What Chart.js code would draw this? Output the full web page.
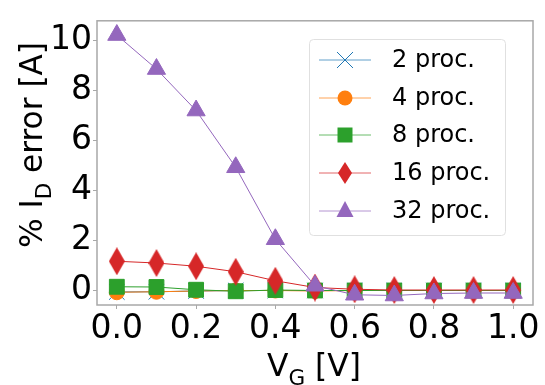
<!DOCTYPE html>
<html>
<head>
<meta charset="utf-8">
<script src="https://cdn.jsdelivr.net/npm/chart.js@4/dist/chart.umd.min.js"></script>
<style>
html, body { margin: 0; padding: 0; background: #fff; }
#wrap { width: 545px; height: 385px; position: relative; }
</style>
</head>
<body>
<div id="wrap"><canvas id="chart" width="545" height="385"></canvas></div>
<script>
// data
const vg = [0.0, 0.1, 0.2, 0.3, 0.4, 0.5, 0.6, 0.7, 0.8, 0.9, 1.0];
const proc2 = [-0.06, -0.05, -0.02, 0.0, 0.0, 0.0, 0.0, 0.0, 0.0, 0.0, 0.0];
const proc4 = [-0.07, -0.05, -0.02, 0.0, 0.0, -0.02, 0.0, 0.0, 0.0, 0.0, 0.0];
const proc8 = [0.15, 0.14, 0.03, -0.03, 0.02, 0.0, 0.0, 0.0, 0.0, 0.0, 0.0];
const proc16 = [1.17, 1.1, 0.97, 0.75, 0.39, 0.12, 0.05, 0.02, 0.02, 0.02, 0.02];
const proc32 = [10.22, 8.86, 7.2, 4.93, 2.05, 0.19, -0.17, -0.2, -0.12, -0.1, -0.1];
const seriesNames = ['2 proc.', '4 proc.', '8 proc.', '16 proc.', '32 proc.'];
const xTicks = [0.0, 0.2, 0.4, 0.6, 0.8, 1.0];
const yTicks = [0, 2, 4, 6, 8, 10];

const colors = ['#1f77b4', '#ff7f0e', '#2ca02c', '#d62728', '#9467bd'];
const FONT = '"DejaVu Sans", sans-serif';

function makeDiamond(w, h, color) {
  const c = document.createElement('canvas');
  c.width = w; c.height = h;
  const g = c.getContext('2d');
  g.fillStyle = color;
  g.beginPath();
  g.moveTo(w / 2, 0); g.lineTo(w, h / 2); g.lineTo(w / 2, h); g.lineTo(0, h / 2);
  g.closePath(); g.fill();
  return c;
}
const diamond = makeDiamond(16, 28, colors[3]);
const diamondSmall = makeDiamond(14, 22, colors[3]);

function pts(arr) { return vg.map((x, i) => ({x: x, y: arr[i]})); }

const styles = [
  {pointStyle: 'crossRot', radius: 11},
  {pointStyle: 'circle', radius: 7.5},
  {pointStyle: 'rect', radius: 10.5},
  {pointStyle: diamond, radius: 10},
  {pointStyle: 'triangle', radius: 10.5}
];
const allData = [proc2, proc4, proc8, proc16, proc32];

const datasets = allData.map((arr, i) => ({
  label: seriesNames[i],
  data: pts(arr),
  borderColor: colors[i],
  backgroundColor: colors[i],
  pointBorderColor: colors[i],
  pointBackgroundColor: colors[i],
  borderWidth: 1,
  pointBorderWidth: 1,
  pointStyle: styles[i].pointStyle,
  pointRadius: styles[i].radius,
  pointHoverRadius: styles[i].radius,
  order: 4 - i
}));

// frame, axis titles and legend like the original
const extras = {
  id: 'extras',
  afterDraw(chart) {
    const ctx = chart.ctx;
    const a = chart.chartArea;
    ctx.save();
    ctx.strokeStyle = '#a8a8a8';
    ctx.lineWidth = 1.5;
    ctx.strokeRect(a.left, a.top, a.right - a.left, a.bottom - a.top);

    // y title
    ctx.fillStyle = '#000';
    ctx.textBaseline = 'alphabetic';
    ctx.save();
    ctx.translate(42, 145);
    ctx.rotate(-Math.PI / 2);
    drawSub(ctx, ['% I', 'D', ' error [A]'], 0, 0, 32, 9, 206);
    ctx.restore();
    // x title
    drawSub(ctx, ['V', 'G', ' [V]'], 314, 376, 32, 9, 94);

    // legend
    const bx = 309, by = 39, bw = 196, bh = 196;
    ctx.fillStyle = 'rgba(255,255,255,0.8)';
    ctx.strokeStyle = '#e0e0e0';
    ctx.lineWidth = 1;
    ctx.beginPath();
    ctx.roundRect(bx + 0.5, by + 0.5, bw, bh, 4);
    ctx.fill(); ctx.stroke();
    const rows = [60, 98, 135, 173, 211];
    for (let i = 0; i < 5; i++) {
      const y = rows[i];
      ctx.strokeStyle = colors[i];
      ctx.globalAlpha = 0.7;
      ctx.lineWidth = 1;
      ctx.beginPath(); ctx.moveTo(319, y); ctx.lineTo(371, y); ctx.stroke();
      ctx.globalAlpha = 1;
      drawMarker(ctx, i, 345, y);
      ctx.fillStyle = '#000';
      ctx.font = '24px ' + FONT;
      ctx.textAlign = 'left';
      ctx.textBaseline = 'middle';
      ctx.fillText(seriesNames[i], 392, y + 1);
    }
    ctx.restore();
  }
};

// text with one subscript part, centred on cx and squeezed to maxW if wider
function drawSub(ctx, parts, cx, y, size, drop, maxW) {
  const big = size + 'px ' + FONT, small = Math.round(size * 0.68) + 'px ' + FONT;
  ctx.font = big; const w0 = ctx.measureText(parts[0]).width;
  ctx.font = small; const w1 = ctx.measureText(parts[1]).width;
  ctx.font = big; const w2 = ctx.measureText(parts[2]).width;
  const total = w0 + w1 + w2;
  const k = total > maxW ? maxW / total : 1;
  ctx.save();
  ctx.translate(cx - total * k / 2, y);
  ctx.scale(k, 1);
  ctx.textAlign = 'left';
  let x = 0;
  ctx.font = big; ctx.fillText(parts[0], x, 0); x += w0;
  ctx.font = small; ctx.fillText(parts[1], x, drop); x += w1;
  ctx.font = big; ctx.fillText(parts[2], x, 0);
  ctx.restore();
}

function drawMarker(ctx, i, x, y) {
  const c = colors[i];
  ctx.fillStyle = c; ctx.strokeStyle = c; ctx.lineWidth = 1;
  ctx.beginPath();
  if (i === 0) {
    ctx.moveTo(x - 8, y - 8); ctx.lineTo(x + 8, y + 8);
    ctx.moveTo(x + 8, y - 8); ctx.lineTo(x - 8, y + 8);
    ctx.stroke();
  } else if (i === 1) {
    ctx.arc(x, y, 7.5, 0, Math.PI * 2); ctx.fill();
  } else if (i === 2) {
    ctx.rect(x - 7.5, y - 7.5, 15, 15); ctx.fill();
  } else if (i === 3) {
    ctx.drawImage(diamondSmall, x - 7, y - 11);
  } else {
    ctx.moveTo(x, y - 10); ctx.lineTo(x + 8.5, y + 6); ctx.lineTo(x - 8.5, y + 6);
    ctx.closePath(); ctx.fill();
  }
}

new Chart(document.getElementById('chart'), {
  type: 'line',
  data: { datasets: datasets },
  options: {
    responsive: false,
    animation: false,
    layout: { padding: { top: 13, right: 7, left: 0, bottom: 0 } },
    plugins: { legend: { display: false }, tooltip: { enabled: false } },
    scales: {
      x: {
        type: 'linear',
        min: -0.05, max: 1.05,
        afterBuildTicks: s => { s.ticks = xTicks.map(v => ({value: v})); },
        afterFit: s => { s.height = 80; },
        grid: { drawOnChartArea: false, drawTicks: true, tickLength: 4, color: '#a8a8a8' },
        border: { display: false },
        ticks: {
          font: { family: FONT, size: 33 }, color: '#000', padding: 1,
          maxRotation: 0, autoSkip: false,
          callback: v => v.toFixed(1)
        }
      },
      y: {
        min: -0.58, max: 10.79,
        afterBuildTicks: s => { s.ticks = yTicks.map(v => ({value: v})); },
        afterFit: s => { s.width = 97; },
        grid: { drawOnChartArea: false, drawTicks: true, tickLength: 4, color: '#a8a8a8' },
        border: { display: false },
        ticks: {
          font: { family: FONT, size: 33 }, color: '#000', padding: 1,
          autoSkip: false,
          callback: v => String(v)
        }
      }
    }
  },
  plugins: [extras]
});
</script>
</body>
</html>
